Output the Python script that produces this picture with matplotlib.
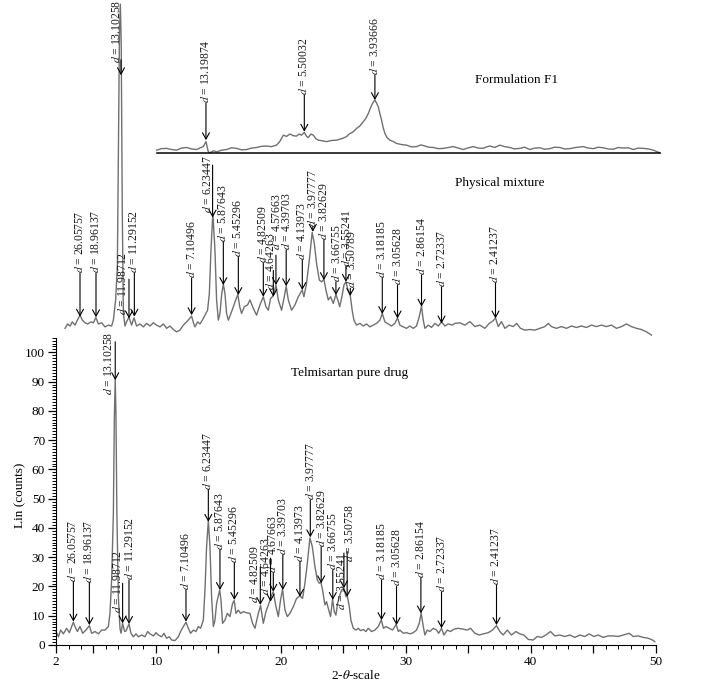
import matplotlib
matplotlib.use("Agg")
import matplotlib.pyplot as plt
import numpy as np
from matplotlib.ticker import FixedLocator, MultipleLocator

plt.rcParams['font.family'] = ['Liberation Serif', 'DejaVu Serif']
plt.rcParams['mathtext.fontset'] = 'stix'

# Traces (2-theta, counts; upper traces drawn with their offset)
pure_drug = [
    (2.0, 4.6), (2.19, 2.8), (2.37, 5.1), (2.59, 3.8), (2.85, 5.7), (3.07, 4.2), (3.39, 7.8),
    (3.52, 6.3), (3.71, 4.6), (3.92, 6.3), (4.13, 4.0), (4.4, 5.1), (4.67, 6.6), (4.85, 4.0),
    (5.12, 4.6), (5.39, 3.8), (5.65, 5.1), (5.92, 5.1), (6.19, 6.3), (6.32, 10.8), (6.45, 22.2),
    (6.59, 45.0), (6.67, 78.0), (6.74, 90.8), (6.80, 78.0), (6.87, 45.0), (6.99, 16.5),
    (7.12, 5.7), (7.2, 4.0), (7.33, 7.4), (7.49, 4.6), (7.6, 4.8), (7.84, 7.2), (8.0, 4.0),
    (8.19, 2.8), (8.4, 3.8), (8.59, 2.8), (8.85, 3.4), (9.12, 2.8), (9.33, 4.6), (9.52, 3.8),
    (9.79, 3.1), (10.0, 4.2), (10.19, 3.4), (10.45, 2.8), (10.64, 4.0), (10.85, 2.3),
    (11.07, 2.8), (11.25, 1.7), (11.52, 1.5), (11.79, 2.8), (11.97, 4.6), (12.19, 6.3),
    (12.4, 7.8), (12.59, 5.7), (12.77, 4.0), (12.99, 5.1), (13.2, 4.6), (13.39, 6.3),
    (13.57, 5.7), (13.79, 8.5), (13.92, 18.8), (14.05, 33.6), (14.19, 42.5), (14.32, 33.6),
    (14.45, 16.5), (14.59, 6.3), (14.72, 8.5), (14.85, 14.2), (15.1, 18.8), (15.2, 15.4),
    (15.33, 7.4), (15.52, 8.5), (15.71, 10.8), (15.92, 9.7), (16.13, 14.2), (16.26, 15.2),
    (16.4, 10.8), (16.59, 11.9), (16.77, 10.8), (16.99, 11.4), (17.25, 11.0), (17.52, 10.8),
    (17.73, 7.4), (17.92, 5.7), (18.19, 10.8), (18.37, 13.5), (18.59, 7.4), (18.8, 11.4),
    (19.07, 14.6), (19.25, 17.0), (19.39, 18.2), (19.6, 13.1), (19.79, 9.7), (19.97, 15.4),
    (20.13, 19.0), (20.32, 12.0), (20.51, 9.7), (20.72, 10.8), (20.99, 13.1), (21.25, 15.9),
    (21.52, 16.8), (21.73, 15.9), (21.92, 21.1), (22.11, 27.9), (22.32, 36.6), (22.51, 33.6),
    (22.72, 26.8), (22.91, 22.2), (23.07, 21.1), (23.2, 21.4), (23.33, 18.8), (23.52, 13.7),
    (23.65, 14.8), (23.79, 12.5), (23.97, 9.7), (24.13, 15.6), (24.27, 11.4), (24.4, 10.2),
    (24.53, 14.2), (24.72, 17.1), (24.85, 18.8), (25.04, 19.4), (25.2, 16.5), (25.31, 16.8),
    (25.47, 13.1), (25.6, 8.5), (25.79, 5.7), (26.0, 5.1), (26.19, 5.7), (26.37, 4.9),
    (26.59, 5.3), (26.8, 4.6), (26.99, 5.7), (27.25, 4.6), (27.52, 5.1), (27.79, 6.3),
    (28.03, 8.6), (28.2, 5.7), (28.4, 6.3), (28.67, 5.7), (28.93, 5.1), (29.22, 7.0),
    (29.4, 4.6), (29.52, 5.1), (29.79, 4.0), (30.05, 4.2), (30.32, 3.8), (30.59, 4.2),
    (30.85, 5.1), (31.07, 7.4), (31.22, 10.9), (31.39, 6.3), (31.52, 3.4), (31.71, 5.1),
    (31.92, 4.6), (32.19, 5.7), (32.45, 5.1), (32.62, 4.0), (32.85, 5.7), (33.04, 3.4),
    (33.31, 5.1), (33.57, 4.6), (33.84, 5.4), (34.19, 5.7), (34.59, 5.4), (34.91, 5.1),
    (35.17, 5.7), (35.52, 4.0), (35.87, 3.4), (36.19, 3.8), (36.59, 4.2), (36.93, 5.1),
    (37.25, 6.6), (37.52, 4.6), (37.79, 3.4), (38.11, 5.1), (38.45, 3.4), (38.8, 4.6),
    (39.12, 3.8), (39.44, 3.4), (39.79, 1.9), (40.19, 1.7), (40.51, 2.9), (40.85, 2.6),
    (41.2, 3.4), (41.57, 4.6), (41.92, 3.1), (42.32, 3.4), (42.72, 2.9), (43.12, 3.4),
    (43.52, 2.6), (43.92, 3.4), (44.32, 2.9), (44.67, 3.8), (45.04, 2.9), (45.39, 3.4),
    (45.79, 2.6), (46.19, 3.1), (46.59, 3.1), (46.99, 2.9), (47.39, 3.4), (47.87, 4.0),
    (48.19, 2.9), (48.59, 3.1), (48.99, 2.6), (49.39, 2.3), (49.73, 1.7), (49.92, 1.15),
]

physical_mix = [
    (2.72, 108.2), (2.93, 109.7), (3.12, 109.0), (3.31, 110.4), (3.52, 109.3), (3.71, 111.0),
    (3.92, 112.7), (4.11, 111.0), (4.32, 110.1), (4.53, 109.7), (4.8, 110.4), (4.99, 110.1),
    (5.19, 111.9), (5.39, 109.7), (5.65, 110.1), (5.92, 108.7), (6.19, 109.3), (6.45, 109.0),
    (6.59, 111.0), (6.77, 117.9), (6.91, 129.3), (7.0, 170.0), (7.08, 210.0), (7.15, 219.0),
    (7.22, 205.0), (7.3, 150.0), (7.39, 113.3), (7.52, 109.0), (7.65, 110.5), (7.84, 112.0),
    (8.05, 109.3), (8.24, 111.8), (8.45, 109.0), (8.72, 109.7), (8.99, 108.7), (9.25, 109.9),
    (9.52, 109.0), (9.79, 110.1), (10.05, 109.3), (10.32, 108.7), (10.59, 109.7),
    (10.85, 108.2), (11.12, 109.0), (11.39, 107.8), (11.65, 107.0), (11.92, 107.6),
    (12.19, 109.3), (12.45, 110.4), (12.62, 111.2), (12.85, 112.4), (13.0, 110.1),
    (13.12, 108.7), (13.33, 110.4), (13.52, 109.7), (13.71, 111.0), (13.92, 112.7),
    (14.13, 114.4), (14.27, 120.1), (14.4, 134.9), (14.55, 147.5), (14.72, 134.9),
    (14.85, 117.9), (14.99, 111.0), (15.12, 113.3), (15.25, 119.6), (15.39, 123.3),
    (15.52, 120.1), (15.65, 113.3), (15.79, 111.0), (16.0, 113.3), (16.19, 115.6),
    (16.35, 117.5), (16.55, 119.8), (16.7, 115.6), (16.85, 113.3), (17.07, 115.6),
    (17.33, 116.2), (17.52, 117.9), (17.79, 115.0), (18.05, 112.7), (18.32, 116.2),
    (18.59, 119.0), (18.8, 115.6), (18.99, 114.4), (19.17, 118.4), (19.39, 119.3),
    (19.6, 123.0), (19.79, 117.9), (20.05, 114.4), (20.27, 119.0), (20.42, 122.6),
    (20.59, 117.9), (20.85, 114.4), (21.12, 116.2), (21.39, 119.0), (21.7, 121.3),
    (21.84, 119.0), (22.05, 123.6), (22.27, 131.5), (22.5, 141.0), (22.67, 137.2),
    (22.85, 130.4), (23.07, 124.7), (23.25, 124.1), (23.44, 124.9), (23.6, 121.3),
    (23.79, 117.9), (23.97, 119.0), (24.19, 116.7), (24.4, 119.8), (24.55, 117.9),
    (24.7, 115.6), (24.88, 119.0), (25.04, 123.0), (25.2, 124.1), (25.35, 121.5),
    (25.55, 119.3), (25.7, 114.4), (25.84, 111.0), (26.05, 109.3), (26.32, 109.9),
    (26.59, 109.0), (26.85, 109.7), (27.12, 108.7), (27.39, 109.3), (27.65, 109.9),
    (27.92, 111.0), (28.11, 113.3), (28.32, 110.4), (28.59, 109.7), (28.85, 109.0),
    (29.12, 109.9), (29.33, 111.8), (29.52, 109.3), (29.79, 108.7), (30.05, 108.2),
    (30.32, 109.0), (30.59, 108.2), (30.85, 109.0), (31.07, 112.2), (31.25, 115.8),
    (31.39, 111.0), (31.52, 108.2), (31.79, 109.3), (32.05, 108.5), (32.32, 109.9),
    (32.59, 109.0), (32.85, 110.4), (33.12, 109.0), (33.39, 109.7), (33.72, 109.3),
    (33.92, 109.9), (34.32, 110.1), (34.72, 109.3), (35.12, 110.5), (35.52, 108.8),
    (35.92, 109.3), (36.32, 108.2), (36.67, 109.9), (36.99, 110.8), (37.17, 111.8),
    (37.39, 108.8), (37.65, 110.5), (37.92, 108.2), (38.27, 109.3), (38.59, 108.8),
    (38.85, 109.9), (39.17, 108.2), (39.52, 107.6), (39.92, 107.8), (40.32, 107.6),
    (40.72, 108.2), (41.12, 108.8), (41.39, 109.9), (41.65, 108.8), (42.05, 108.2),
    (42.45, 108.8), (42.85, 108.2), (43.25, 109.0), (43.65, 108.5), (44.05, 109.0),
    (44.45, 108.5), (44.85, 109.3), (45.25, 108.8), (45.65, 109.3), (46.05, 108.8),
    (46.45, 109.3), (46.85, 108.2), (47.25, 108.8), (47.65, 109.7), (48.05, 108.8),
    (48.45, 108.2), (48.85, 107.8), (49.25, 107.0), (49.65, 105.9),
]

formulation_f1 = [
    (10.05, 169.1), (10.45, 169.6), (10.85, 169.7), (11.25, 169.3), (11.65, 169.1),
    (12.05, 169.8), (12.45, 170.0), (12.85, 169.5), (13.25, 169.3), (13.55, 169.9),
    (13.79, 170.3), (14.0, 172.0), (14.19, 168.5), (14.32, 168.2), (14.6, 168.9),
    (14.85, 168.5), (15.25, 169.1), (15.65, 169.3), (16.05, 169.9), (16.45, 169.7),
    (16.85, 169.2), (17.25, 169.3), (17.65, 169.8), (18.05, 170.0), (18.45, 170.4),
    (18.85, 170.5), (19.25, 170.3), (19.65, 170.8), (19.9, 172.0), (20.19, 174.2),
    (20.45, 173.8), (20.72, 174.6), (21.0, 174.0), (21.25, 173.9), (21.45, 174.6),
    (21.65, 174.2), (21.87, 175.2), (22.05, 173.8), (22.19, 173.4), (22.4, 174.6),
    (22.59, 174.2), (22.8, 173.0), (22.99, 172.5), (23.3, 172.3), (23.65, 172.0),
    (24.05, 172.4), (24.45, 172.5), (24.85, 173.0), (25.25, 173.7), (25.45, 174.6),
    (25.65, 175.0), (25.85, 175.6), (26.05, 176.5), (26.3, 177.3), (26.59, 178.8),
    (26.8, 180.0), (26.99, 181.6), (27.15, 183.4), (27.33, 185.1), (27.52, 186.2),
    (27.65, 185.2), (27.79, 183.9), (27.92, 181.5), (28.05, 179.4), (28.18, 176.8),
    (28.32, 174.8), (28.5, 173.3), (28.72, 172.5), (29.0, 172.0), (29.25, 171.4),
    (29.65, 171.0), (30.05, 170.8), (30.45, 170.2), (30.85, 170.3), (31.2, 170.9),
    (31.52, 170.5), (31.85, 170.1), (32.19, 170.0), (32.6, 169.6), (32.99, 169.7),
    (33.4, 170.0), (33.79, 170.3), (34.2, 169.8), (34.59, 169.3), (35.0, 169.9),
    (35.39, 170.3), (35.8, 169.8), (36.19, 169.7), (36.45, 170.2), (36.72, 170.5),
    (37.1, 170.0), (37.52, 170.8), (37.9, 170.3), (38.32, 170.0), (38.7, 169.5),
    (39.12, 169.7), (39.5, 170.1), (39.92, 169.3), (40.3, 169.8), (40.72, 169.9),
    (41.1, 169.4), (41.52, 169.6), (41.9, 170.1), (42.32, 170.0), (42.7, 169.5),
    (43.12, 169.6), (43.6, 170.0), (44.19, 170.3), (44.6, 169.8), (44.99, 169.6),
    (45.4, 170.1), (45.79, 169.9), (46.2, 169.5), (46.59, 169.4), (47.0, 170.0),
    (47.39, 169.8), (47.8, 169.9), (48.19, 169.3), (48.6, 169.8), (48.99, 169.7),
    (49.4, 169.5), (49.79, 169.1), (50.32, 168.2),
]
f1_base = 168.0

# Peak labels: d-spacing text, arrow x, arrow tip y
pure_labels = ['26.05757', '18.96137', '13.10258', '11.98712', '11.29152', '7.10496',
               '6.23447', '5.87643', '5.45296', '4.82509', '4.64263', '4.67663', '3.39703',
               '4.13973', '3.97777', '3.82629', '3.66755', '3.55241', '3.50758', '3.18185',
               '3.05628', '2.86154', '2.72337', '2.41237']
pure_peak_x = [3.39, 4.67, 6.74, 7.33, 7.84, 12.4, 14.19, 15.12, 16.27, 18.35, 19.17, 19.39,
               20.15, 21.52, 22.35, 23.22, 24.15, 25.04, 25.3, 28.05, 29.25, 31.2, 32.85, 37.25]
pure_peak_y = [8.0, 6.8, 90.5, 7.4, 7.2, 8.0, 42.1, 18.8, 15.4, 13.7, 14.8, 18.2, 18.8, 16.5,
               36.8, 21.1, 15.4, 19.4, 16.5, 8.5, 6.8, 10.8, 5.7, 6.8]

phys_labels = ['26.05757', '18.96137', '13.10258', '11.98712', '11.29152', '7.10496',
               '6.23447', '5.87643', '5.45296', '4.82509', '4.64263', '4.57663', '4.39703',
               '4.13973', '3.97777', '3.82629', '3.66755', '3.55241', '3.50789', '3.18185',
               '3.05628', '2.86154', '2.72337', '2.41237']
phys_peak_x = [3.92, 5.2, 7.2, 7.84, 8.27, 12.85, 14.53, 15.39, 16.59, 18.59, 19.39, 19.6,
               20.42, 21.71, 22.55, 23.44, 24.4, 25.2, 25.55, 28.11, 29.33, 31.25, 32.85, 37.17]
phys_peak_y = [112.2, 112.0, 194.7, 111.6, 112.2, 112.7, 146.1, 123.0, 119.6, 119.0, 119.0,
               123.0, 122.6, 121.3, 141.2, 124.7, 119.6, 124.1, 119.3, 113.1, 111.6, 115.6,
               109.9, 111.6]

f1_labels = ['13.19874', '5.50032', '3.93666']
f1_peak_x = [14.0, 21.87, 27.52]
f1_peak_y = [172.5, 175.4, 186.2]

# Layout of the label stems: top of each arrow line, text x, text bottom y
pure_line_top = [21.6, 21.3, 103.6, 21.1, 22.2, 18.8, 53.0, 32.5, 28.0, 26.7, 29.7, 24.5,
                 30.7, 28.5, 49.5, 33.6, 25.6, 31.4, 31.9, 22.2, 20.0, 22.9, 18.1, 20.5]
pure_text_x = [3.39, 4.67, 6.27, 6.99, 7.9, 12.4, 14.19, 15.12, 16.27, 17.92, 18.8, 19.39,
               20.19, 21.52, 22.37, 23.25, 24.19, 24.85, 25.52, 28.05, 29.25, 31.2, 32.85, 37.25]
pure_text_y = [21.6, 21.3, 85.4, 10.9, 22.2, 18.8, 53.0, 32.5, 28.0, 14.3, 17.1, 24.5, 30.7,
               28.5, 49.5, 33.6, 25.6, 12.0, 28.4, 22.2, 20.0, 22.9, 18.1, 20.5]

phys_line_top = [127.0, 127.0, 200.0, 125.0, 127.0, 125.3, 164.0, 137.8, 132.7, 130.4, 128.0,
                 133.2, 135.0, 131.5, 142.9, 138.4, 124.1, 129.3, 121.9, 125.3, 123.0, 126.4,
                 122.4, 123.6]
phys_text_x = [3.92, 5.2, 6.9, 7.39, 8.27, 12.85, 14.19, 15.39, 16.59, 18.59, 19.17, 19.65,
               20.45, 21.71, 22.59, 23.44, 24.45, 25.25, 25.65, 28.11, 29.33, 31.25, 32.85, 37.17]
phys_text_y = [127.0, 127.0, 199.0, 112.7, 127.0, 125.3, 147.5, 137.8, 132.7, 130.4, 121.3,
               135.0, 135.0, 131.5, 142.9, 138.4, 124.1, 129.3, 121.9, 125.3, 123.0, 126.4,
               122.4, 123.6]

f1_line_top = [185.1, 187.9, 194.7]

fig = plt.figure(figsize=(7.09, 6.91), dpi=100)
ax = fig.add_axes([0.079, 0.0666, 0.846, 0.9334])

trace_color = '#707070'
for trace in (pure_drug, physical_mix, formulation_f1):
    xs, ys = np.array(trace).T
    ax.plot(xs, ys, color=trace_color, lw=1.0, clip_on=False)
ax.plot([formulation_f1[0][0], formulation_f1[-1][0]], [f1_base, f1_base],
        color='black', lw=1.1, clip_on=False)


def label_peaks(labels, px, py, tops, tx, ty):
    for lab, x, y, top, xt, yt in zip(labels, px, py, tops, tx, ty):
        ax.annotate('', xy=(x, y), xytext=(x, top),
                    arrowprops=dict(arrowstyle='->,head_length=0.45,head_width=0.25',
                                    lw=0.8, color='black', shrinkA=0, shrinkB=0,
                                    mutation_scale=10))
        ax.text(xt, yt, f'$d$ = {lab}', rotation=90, ha='center', va='bottom',
                fontsize=8.4, color='#1a1a1a')


label_peaks(pure_labels, pure_peak_x, pure_peak_y, pure_line_top, pure_text_x, pure_text_y)
label_peaks(phys_labels, phys_peak_x, phys_peak_y, phys_line_top, phys_text_x, phys_text_y)
label_peaks(f1_labels, f1_peak_x, f1_peak_y, f1_line_top, f1_peak_x, f1_line_top)

ax.text(25.5, 93, 'Telmisartan pure drug', ha='center', va='center', fontsize=9.5)
ax.text(37.5, 157.7, 'Physical mixture', ha='center', va='center', fontsize=9.5)
ax.text(38.85, 193, 'Formulation F1', ha='center', va='center', fontsize=9.5)

ax.set_xlim(2, 50)
ax.set_ylim(0, 220.4)
ax.spines['top'].set_visible(False)
ax.spines['right'].set_visible(False)
ax.spines['left'].set_bounds(0, 105)
ax.set_facecolor('none')

ax.yaxis.set_major_locator(FixedLocator(list(range(0, 101, 10))))
ax.yaxis.set_minor_locator(FixedLocator(list(range(0, 106, 1))))
ax.xaxis.set_major_locator(FixedLocator([2, 5, 10, 15, 20, 25, 30, 35, 40, 45, 50]))
ax.set_xticklabels(['2', '', '10', '', '20', '', '30', '', '40', '', '50'])
ax.xaxis.set_minor_locator(MultipleLocator(1))
ax.tick_params(which='major', length=6, width=0.9, labelsize=9.5, direction='out', pad=2)
ax.tick_params(which='minor', length=3, width=0.7, direction='out')

ax.set_xlabel(r'2-$\theta$-scale', fontsize=9.5, labelpad=1)
ax.set_ylabel('Lin (counts)', fontsize=9.5)
ax.yaxis.set_label_coords(-0.05, 51 / 220.4)

fig.savefig('out.png', dpi=100)
